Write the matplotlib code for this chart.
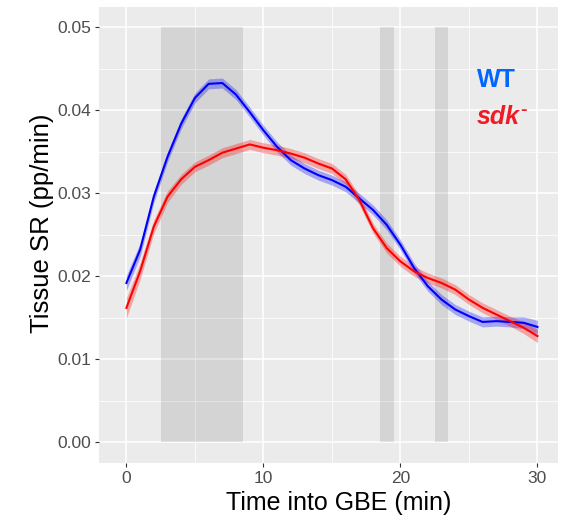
import matplotlib
matplotlib.use("Agg")
import matplotlib.pyplot as plt
import numpy as np

# ---- data ----
time_min = list(range(0, 31))
wt_sr = [0.0192, 0.0232, 0.0296, 0.0344, 0.0384, 0.0415, 0.0432, 0.0433, 0.0419, 0.0398,
         0.0376, 0.0356, 0.0340, 0.0330, 0.0322, 0.0316, 0.0308, 0.0294, 0.0280, 0.0262,
         0.0238, 0.0210, 0.0188, 0.0172, 0.0160, 0.0152, 0.0145, 0.0146, 0.0145, 0.0144,
         0.0139]
sdk_sr = [0.0162, 0.0206, 0.0260, 0.0296, 0.0317, 0.0332, 0.0340, 0.0349, 0.0354, 0.0359,
          0.0355, 0.0352, 0.0348, 0.0343, 0.0336, 0.0330, 0.0317, 0.0292, 0.0258, 0.0234,
          0.0218, 0.0206, 0.0198, 0.0192, 0.0184, 0.0172, 0.0162, 0.0154, 0.0146, 0.0138,
          0.0128]
wt_se = [0.0009, 0.0008, 0.0007, 0.0006, 0.0006, 0.0006, 0.0006, 0.0006, 0.0006, 0.0006,
         0.0006, 0.0006, 0.0006, 0.0006, 0.0006, 0.0006, 0.0006, 0.0006, 0.0006, 0.0006,
         0.0006, 0.0006, 0.0006, 0.0006, 0.0006, 0.0006, 0.0006, 0.0006, 0.0006, 0.0007,
         0.0008]
sdk_se = [0.0012, 0.0010, 0.0008, 0.0007, 0.0006, 0.0006, 0.0006, 0.0006, 0.0006, 0.0006,
          0.0006, 0.0006, 0.0006, 0.0006, 0.0006, 0.0006, 0.0006, 0.0006, 0.0006, 0.0006,
          0.0006, 0.0006, 0.0006, 0.0006, 0.0006, 0.0006, 0.0006, 0.0006, 0.0006, 0.0007,
          0.0008]
shade_start = [2.5, 18.5, 22.5]
shade_end = [8.5, 19.5, 23.5]
x_ticks = [0, 10, 20, 30]
y_ticks = [0.00, 0.01, 0.02, 0.03, 0.04, 0.05]
y_tick_labels = ["0.00", "0.01", "0.02", "0.03", "0.04", "0.05"]

plt.rcParams['font.family'] = ['Liberation Sans', 'DejaVu Sans']

fig = plt.figure(figsize=(5.63, 5.18), dpi=100)
ax = fig.add_axes([99/563, 1 - 463/518, (558 - 99)/563, (463 - 6.7)/518])
ax.set_facecolor('#EBEBEB')

ax.set_xlim(-2.0, 31.5)
ax.set_ylim(-0.0025, 0.0525)

# grid
for xm in [5, 15, 25]:
    ax.axvline(xm, color='white', lw=0.55, zorder=0.5)
for ym in [0.005, 0.015, 0.025, 0.035, 0.045]:
    ax.axhline(ym, color='white', lw=0.55, zorder=0.5)
for xg in x_ticks:
    ax.axvline(xg, color='white', lw=1.1, zorder=0.6)
for yg in y_ticks:
    ax.axhline(yg, color='white', lw=1.1, zorder=0.6)

# shaded intervals
for s, e in zip(shade_start, shade_end):
    ax.fill_between([s, e], 0, 0.05, color='black', alpha=0.095, lw=0, zorder=1)

t = np.array(time_min)
wt = np.array(wt_sr)
sdk = np.array(sdk_sr)
ax.fill_between(t, wt - np.array(wt_se), wt + np.array(wt_se), color='#0000FF', alpha=0.3, lw=0, zorder=2)
ax.fill_between(t, sdk - np.array(sdk_se), sdk + np.array(sdk_se), color='#FF0000', alpha=0.3, lw=0, zorder=2)
ax.plot(t, wt, color='#0000FF', lw=1.5, zorder=3)
ax.plot(t, sdk, color='#FF0000', lw=1.5, zorder=3)

# labels in panel
ax.text(25.55, 0.0428, "WT", color='#0066FF', fontsize=18, fontweight='bold', ha='left', va='baseline', zorder=4)
t1 = ax.text(25.55, 0.0384, "sdk", color='#EE1C25', fontsize=18, fontweight='bold', style='italic',
             ha='left', va='baseline', zorder=4)
ax.annotate("-", xy=(1.0, 1.0), xycoords=t1, xytext=(0.5, 1.7), textcoords='offset points',
            color='#EE1C25', fontsize=14, fontweight='bold', ha='left', va='top', zorder=4)

for sp in ax.spines.values():
    sp.set_visible(False)

ax.set_xticks(x_ticks)
ax.set_xticklabels([str(v) for v in x_ticks])
ax.set_yticks(y_ticks)
ax.set_yticklabels(y_tick_labels)
ax.tick_params(axis='both', which='major', length=3.0, width=0.8, color='#333333',
               labelcolor='#4D4D4D', labelsize=12.5, pad=2.5)
ax.set_xlabel("Time into GBE (min)", fontsize=18, color='black')
ax.set_ylabel("Tissue SR (pp/min)", fontsize=18.5, color='black')
# place axis titles
ax.xaxis.set_label_coords((338.5 - 99) / (558 - 99), -(503 - 463) / (463 - 6.7), transform=ax.transAxes)
ax.xaxis.label.set_va('center')
ax.yaxis.set_label_coords(-(99 - 42) / (558 - 99), (463 - 223) / (463 - 6.7), transform=ax.transAxes)
ax.yaxis.label.set_va('center')

fig.savefig("out.png", dpi=100)
